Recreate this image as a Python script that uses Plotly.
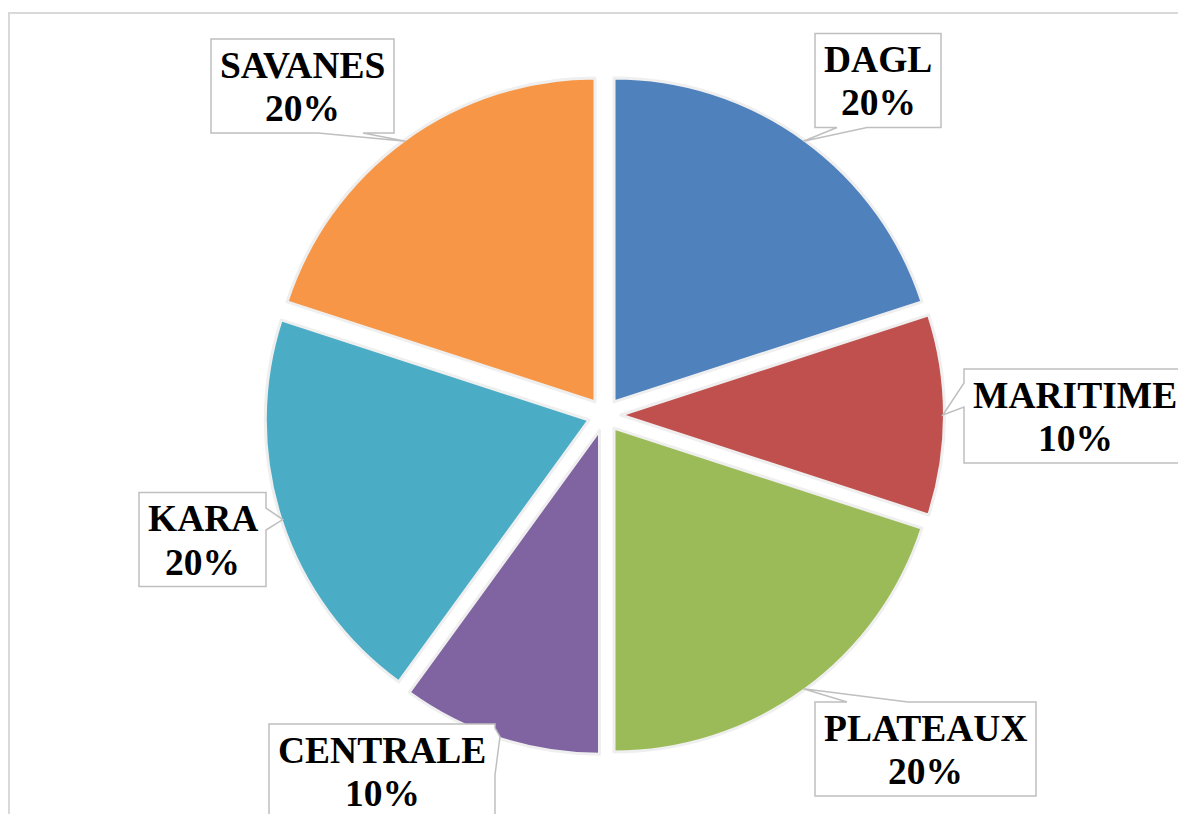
import math
import plotly.graph_objects as go

# ---- data ----
regions = ["DAGL", "MARITIME", "PLATEAUX", "CENTRALE", "KARA", "SAVANES"]
shares = [20, 10, 20, 10, 20, 20]
colors = ["#4F81BD", "#C0504D", "#9BBB59", "#8064A2", "#4BACC6", "#F79646"]

# ---- layout geometry (screen pixels; page body has an 8px margin) ----
W, H = 1186, 814
OFF = 8
CX, CY = 604.5, 415.0
PULL = 0.05
OUTER = 340.0            # radius * (1 + pull)


def px(x):
    return (x - OFF) / W


def py(y):
    return 1 - (y - OFF) / H


# label boxes: center x, center y, width, pointer base (side, a, b)
boxes = {
    "DAGL": (878, 80.5, 126, ("bottom", 837, 867)),
    "MARITIME": (1075, 416, 222, ("left", 383, 407)),
    "PLATEAUX": (925.5, 749, 221, ("top", 847, 908)),
    "CENTRALE": (382, 771, 226, ("right", 728, 775)),
    "KARA": (202.5, 539.5, 127, ("right", 508, 530)),
    "SAVANES": (302.5, 86, 183, ("bottom", 318, 363)),
}
BOX_H = 94
LINE1, LINE2 = -20.5, 22.5
FONT = dict(family="Liberation Serif", size=37.5, color="black", weight="bold")

fig = go.Figure(
    go.Pie(
        labels=regions,
        values=shares,
        sort=False,
        direction="clockwise",
        rotation=0,
        pull=[PULL] * len(regions),
        marker=dict(colors=colors, line=dict(color="#EFEFEF", width=3)),
        textinfo="none",
        hoverinfo="label+percent",
        showlegend=False,
        domain=dict(x=[px(CX - OUTER), px(CX + OUTER)],
                    y=[py(CY + OUTER), py(CY - OUTER)]),
    )
)

total = sum(shares)
shapes = [
    dict(type="rect", xref="paper", yref="paper",
         x0=px(9), x1=px(W + 30), y0=py(13), y1=py(H + 30),
         line=dict(color="#D9D9D9", width=2), fillcolor="rgba(0,0,0,0)",
         layer="below"),
]
annotations = []
cum = 0.0
for name, val in zip(regions, shares):
    mid = (cum + val / 2) / total * 2 * math.pi
    cum += val
    tip = (CX + OUTER * math.sin(mid) * 0.995,
           CY - OUTER * math.cos(mid) * 0.995)
    bx, by, bw, (side, a, b) = boxes[name]
    left, right = bx - bw / 2, bx + bw / 2
    top, bottom = by - BOX_H / 2, by + BOX_H / 2
    pts = [(left, top)]
    if side == "top":
        pts += [(a, top), tip, (b, top)]
    pts.append((right, top))
    if side == "right":
        pts += [(right, a), tip, (right, b)]
    pts.append((right, bottom))
    if side == "bottom":
        pts += [(b, bottom), tip, (a, bottom)]
    pts.append((left, bottom))
    if side == "left":
        pts += [(left, b), tip, (left, a)]
    path = "M " + " L ".join(f"{px(x):.5f} {py(y):.5f}" for x, y in pts) + " Z"
    shapes.append(dict(type="path", xref="paper", yref="paper", path=path,
                       line=dict(color="#BFBFBF", width=1.5),
                       fillcolor="white", layer="above"))
    pct = round(val / total * 100)
    for txt, dy in ((name, LINE1), (f"{pct}%", LINE2)):
        annotations.append(dict(
            x=px(bx), y=py(by + dy), xref="paper", yref="paper",
            xanchor="center", yanchor="middle",
            text=txt, showarrow=False, font=FONT,
        ))

fig.update_layout(
    width=W, height=H,
    margin=dict(l=0, r=0, t=0, b=0),
    paper_bgcolor="white",
    plot_bgcolor="white",
    shapes=shapes,
    annotations=annotations,
)

fig.write_html("out.html")
